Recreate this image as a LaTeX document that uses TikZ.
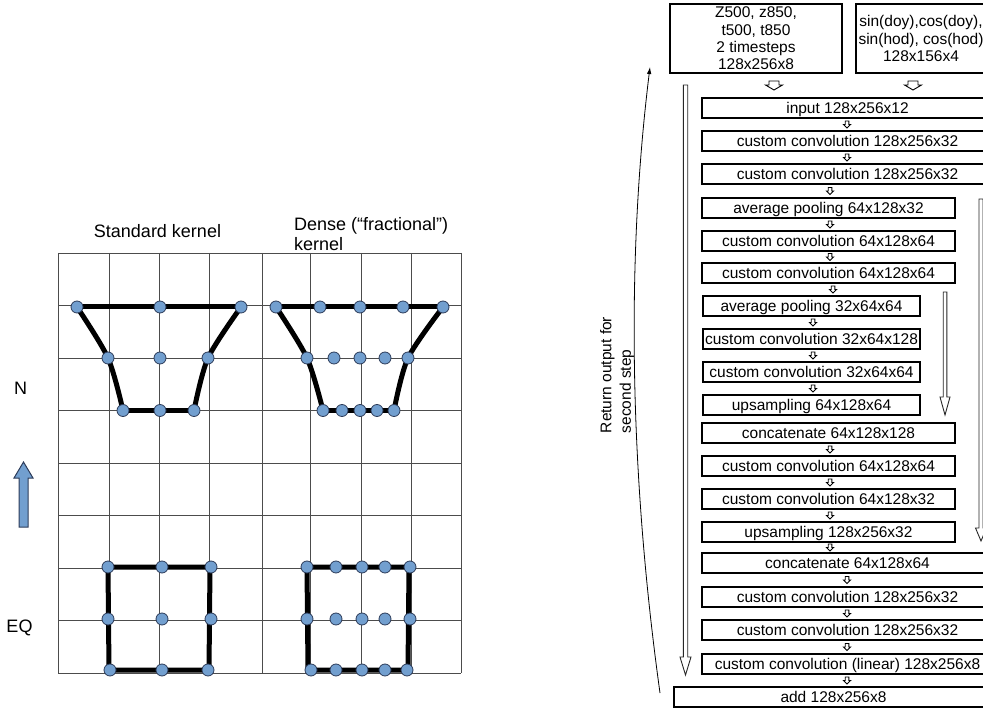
\documentclass[tikz,border=0pt]{standalone}
\usepackage{fontspec}
\setmainfont{Liberation Sans}
\usetikzlibrary{calc,arrows.meta}
\definecolor{kblue}{RGB}{114,159,207}
\definecolor{kedge}{RGB}{45,60,90}
\newcommand\bfs{\fontsize{15.5}{17.3}\selectfont}
\newcommand\rfs{\fontsize{15.5}{19.5}\selectfont}
\newcommand\lfs{\fontsize{18}{20}\selectfont}
\newcommand\bx[7][box]{\node[#1, minimum width={(#4-#3)*1pt}, minimum height={(#6-#5)*1pt}] (#2) at ({(#3+#4)/2},{(#5+#6)/2}) {#7};}
\newcommand\conn[4][sarr]{\pic at ($(#2.south -| #4)!0.5!(#3.north -| #4)$) {#1};}
\tikzset{
  box/.style={draw=black, line width=1.1pt, inner sep=0pt, font=\bfs, text height=11.2pt, text depth=0pt},
  mbox/.style={draw=black, line width=1.1pt, inner sep=0pt, font=\bfs, align=center},
  arrline/.style={draw=black, line width=0.9pt, fill=white, line join=miter},
  longarr/.style={draw=black!85, line width=0.9pt, fill=white},
  gridline/.style={draw=black!70, line width=0.9pt},
  kern/.style={line width=5pt, line cap=round, line join=round},
  dot/.style={fill=kblue, draw=kedge, line width=0.8pt},
  barrow/.style={fill=kblue, draw=kedge, line width=1pt},
  lbl/.style={font=\lfs, inner sep=0pt},
  retlbl/.style={font=\rfs, inner sep=0pt, rotate=90, align=left},
  retarr/.style={line width=0.8pt, -{Latex[length=7pt,width=4.5pt]}},
  sarr/.pic={\draw[arrline] (-1.8,-3.5) -- (1.8,-3.5) -- (1.8,0) -- (3.6,0) -- (0,3.5) -- (-3.6,0) -- (-1.8,0) -- cycle;},
  barr/.pic={\draw[arrline] (-5,-4.5) -- (5,-4.5) -- (5,-0.5) -- (8.5,-0.5) -- (0,4.5) -- (-8.5,-0.5) -- (-5,-0.5) -- cycle;}
}
\begin{document}
\begin{tikzpicture}[x=1pt,y=-1pt]
\useasboundingbox (0,0) rectangle (983,711);
\clip (0,0) rectangle (983,711);

% ---------------- left: grid and kernels ----------------
\foreach \y in {253,305.5,358,410.5,463,515.5,568,620.5,673}
  \draw[gridline] (58,\y) -- (461,\y);
\foreach \x in {58,109,159,209,262,310,361,411,461}
  \draw[gridline] (\x,253) -- (\x,673);

% standard kernel, N
\draw[kern] (77,307) -- (241,307);
\draw[kern] (123,410.5) -- (194,410.5);
\draw[kern] plot[smooth] coordinates {(77,307) (108,358) (123,410.5)};
\draw[kern] plot[smooth] coordinates {(241,307) (208,358) (194,410.5)};
% dense kernel, N
\draw[kern] (276,307) -- (443,307);
\draw[kern] (323,410.5) -- (394,410.5);
\draw[kern] plot[smooth] coordinates {(276,307) (307,358) (323,410.5)};
\draw[kern] plot[smooth] coordinates {(443,307) (408,358) (394,410.5)};
% standard kernel, EQ
\draw[kern] (108,567) -- (210,567) -- (209,670) -- (109,670) -- cycle;
% dense kernel, EQ
\draw[kern] (307,567) -- (409,567) -- (408,670) -- (308,670) -- cycle;

\foreach \p in {(77,307),(160,307),(241,307),(108,358),(160,358),(208,358),(123,410.5),(160,410.5),(194,410.5),
  (276,307),(320,307),(360,307),(403,307),(443,307),
  (307,358),(334,358),(360,358),(385,358),(408,358),
  (323,410.5),(342,410.5),(360,410.5),(377,410.5),(394,410.5),
  (108,567),(162,567),(211,567),(108,619),(162,619),(211,619),(110,670),(162,670),(208,670),
  (307,567),(336,567),(362,567),(385,567),(410,567),
  (307,619),(336,619),(362,619),(385,619),(410,619),
  (311,670),(336,670),(362,670),(385,670),(407,670)}
  \filldraw[dot] \p circle (6);

\node[lbl, anchor=base] (stdl) at (157.5,238) {Standard kernel};
\node[lbl, anchor=north west, align=left] (densel) at (294,217) {Dense (“fractional”)\\kernel};
\node[lbl, anchor=base] (nl) at (20.5,395) {N};
\node[lbl, anchor=base] (eql) at (19.5,632) {EQ};
\filldraw[barrow] (19,527) -- (28,527) -- (28,478) -- (33,478) -- (23.5,462) -- (14,478) -- (19,478) -- cycle;

% ---------------- right: network ----------------
\coordinate (xz) at (774,0);
\coordinate (xsn) at (913,0);
\coordinate (xf) at (847,0);
\coordinate (xm) at (830,0);
\coordinate (xp) at (833,0);
\coordinate (xs) at (813,0);

\bx[mbox]{zin}{670}{842}{4}{73}{Z500, z850,\\t500, t850\\2 timesteps\\128x256x8}
\bx[mbox]{sin}{856}{986}{4}{73}{sin(doy),cos(doy),\\sin(hod), cos(hod)\\128x156x4}
\bx{in}{702}{993}{98}{118}{input 128x256x12}
\bx{c1}{702}{993}{131}{151}{custom convolution 128x256x32}
\bx{c2}{702}{993}{164}{184}{custom convolution 128x256x32}
\bx{p1}{702}{955}{198}{218}{average pooling 64x128x32}
\bx{c3}{702}{955}{231}{251}{custom convolution 64x128x64}
\bx{c4}{702}{955}{263}{283}{custom convolution 64x128x64}
\bx{p2}{703}{920}{296}{316}{average pooling 32x64x64}
\bx{c5}{703}{920}{329}{349}{custom convolution 32x64x128}
\bx{c6}{703}{920}{362}{382}{custom convolution 32x64x64}
\bx{u1}{703}{920}{395}{415}{upsampling 64x128x64}
\bx{k1}{702}{955}{423}{443}{concatenate 64x128x128}
\bx{c7}{702}{955}{456}{476}{custom convolution 64x128x64}
\bx{c8}{702}{955}{489}{509}{custom convolution 64x128x32}
\bx{u2}{702}{955}{522}{542}{upsampling 128x256x32}
\bx{k2}{702}{993}{553}{573}{concatenate 64x128x64}
\bx{c9}{702}{993}{587}{607}{custom convolution 128x256x32}
\bx{c10}{702}{993}{620}{640}{custom convolution 128x256x32}
\bx{c11}{702}{993}{654}{674}{custom convolution (linear) 128x256x8\hspace{16pt}}
\bx{add}{674}{993}{687}{707}{add 128x256x8\hspace{16pt}}

\conn[barr]{zin}{in}{xz}
\conn[barr]{sin}{in}{xsn}
\conn{in}{c1}{xf}
\conn{c1}{c2}{xf}
\conn{c2}{p1}{xm}
\conn{p1}{c3}{xm}
\conn{c3}{c4}{xm}
\conn{c4}{p2}{xp}
\conn{p2}{c5}{xs}
\conn{c5}{c6}{xs}
\conn{c6}{u1}{xs}
\conn{k1}{c7}{xm}
\conn{c7}{c8}{xm}
\conn{c8}{u2}{xm}
\conn{u2}{k2}{xm}
\conn{k2}{c9}{xf}
\conn{c9}{c10}{xf}
\conn{c10}{c11}{xf}
\conn{c11}{add}{xf}

% skip connections
\draw[longarr] (683.3,85) -- (687.7,85) -- (687.7,657) -- (691,657) -- (685.5,675) -- (680,657) -- (683.3,657) -- cycle;
\draw[longarr] (943.2,292) -- (946.8,292) -- (946.8,397) -- (950,397) -- (945,415) -- (940,397) -- (943.2,397) -- cycle;
\draw[longarr] (979,199) -- (983,199) -- (983,528) -- (986.5,528) -- (981,541) -- (975.5,528) -- (979,528) -- cycle;

% return arrow
\coordinate (rs) at (660,693);
\coordinate (re) at (650,67);
\draw[retarr] (rs) .. controls (631,484) and (625,270) .. (re);
\node[retlbl] (retl) at (617,375) {Return output for\\second step};
\end{tikzpicture}
\end{document}
